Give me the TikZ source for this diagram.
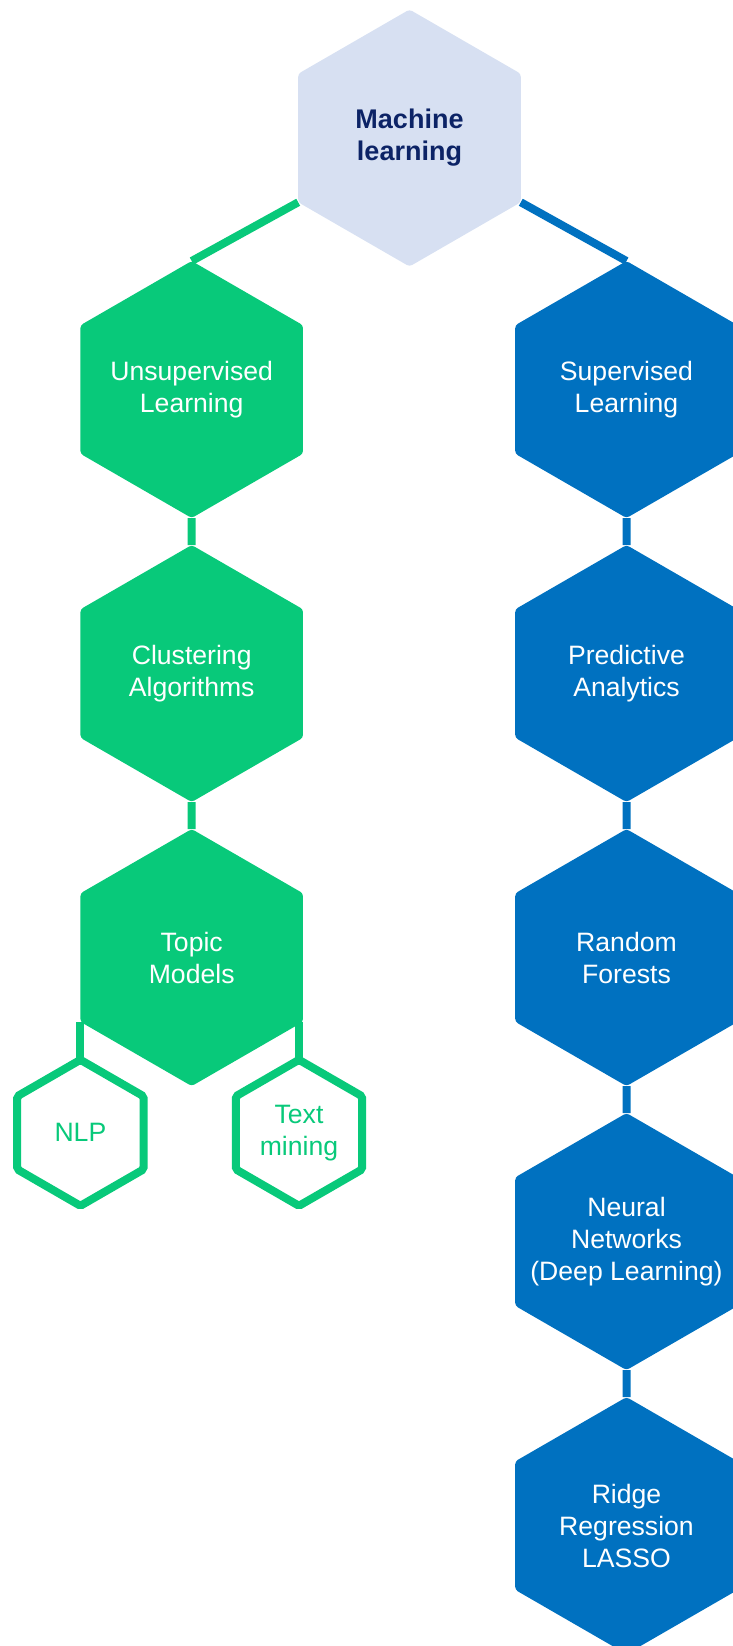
\documentclass[tikz,border=0pt]{standalone}
\usepackage{fontspec}
\setmainfont{Liberation Sans}
\usepackage{xcolor}
\usepackage{tikz}
\usetikzlibrary{positioning}
\usetikzlibrary{shapes}
\usetikzlibrary{backgrounds}

\definecolor{mlfill}{HTML}{D7E0F2}
\definecolor{mlnavy}{HTML}{0C2366}
\definecolor{kgreen}{HTML}{08C97A}
\definecolor{kblue}{HTML}{0071C0}

\begin{document}
\begin{tikzpicture}[x=1pt,y=1pt,
hexa/.style={regular polygon, regular polygon sides=6, shape border rotate=30,
minimum size=128.5pt, inner sep=-14pt, outer sep=0pt, rounded corners=1.5pt,
align=center, text=white, font=\fontsize{13.3}{16}\selectfont},
greenhex/.style={hexa, fill=kgreen},
bluehex/.style={hexa, fill=kblue},
smallhex/.style={hexa, minimum size=73pt, draw=kgreen, line width=4pt,
fill=white, text=kgreen, rounded corners=1pt},
link/.style={line width=4pt}]
\useasboundingbox (0,0) rectangle (366.5,-823);
\node[hexa, fill=mlfill, text=mlnavy,
font=\fontsize{13.5}{16}\selectfont\bfseries] (ml) at (204.75,-69) {Machine\\learning};
\node[greenhex] (unsup) at (95.85,-194.75) {Unsupervised\\Learning};
\node[greenhex] (clust) [below=13.5pt of unsup] {Clustering\\Algorithms};
\node[greenhex] (topic) [below=13.5pt of clust] {Topic\\Models};
\node[smallhex] (nlp) [below=19pt of topic.210] {NLP};
\node[smallhex] (textmin) [xshift=-2pt, below=19pt of topic.330] {Text\\mining};
\node[bluehex] (sup) at (313.25,-194.75) {Supervised\\Learning};
\node[bluehex] (pred) [below=13.5pt of sup] {Predictive\\Analytics};
\node[bluehex] (forest) [below=13.5pt of pred] {Random\\Forests};
\node[bluehex] (neural) [below=13.5pt of forest] {Neural\\Networks\\(Deep Learning)};
\node[bluehex] (ridge) [below=13.5pt of neural] {Ridge\\Regression\\LASSO};

\begin{scope}[on background layer]
\draw[link, kgreen] (ml.210) -- (unsup.90);
\draw[link, kblue] (ml.330) -- (sup.90);
\draw[link, kgreen] (unsup.270) -- (clust.90);
\draw[link, kgreen] (clust.270) -- (topic.90);
\draw[link, kgreen] (nlp.90) -- (nlp.90 |- topic.210);
\draw[link, kgreen] (textmin.90) -- (textmin.90 |- topic.330);
\draw[link, kblue] (sup.270) -- (pred.90);
\draw[link, kblue] (pred.270) -- (forest.90);
\draw[link, kblue] (forest.270) -- (neural.90);
\draw[link, kblue] (neural.270) -- (ridge.90);
\end{scope}
\end{tikzpicture}
\end{document}
